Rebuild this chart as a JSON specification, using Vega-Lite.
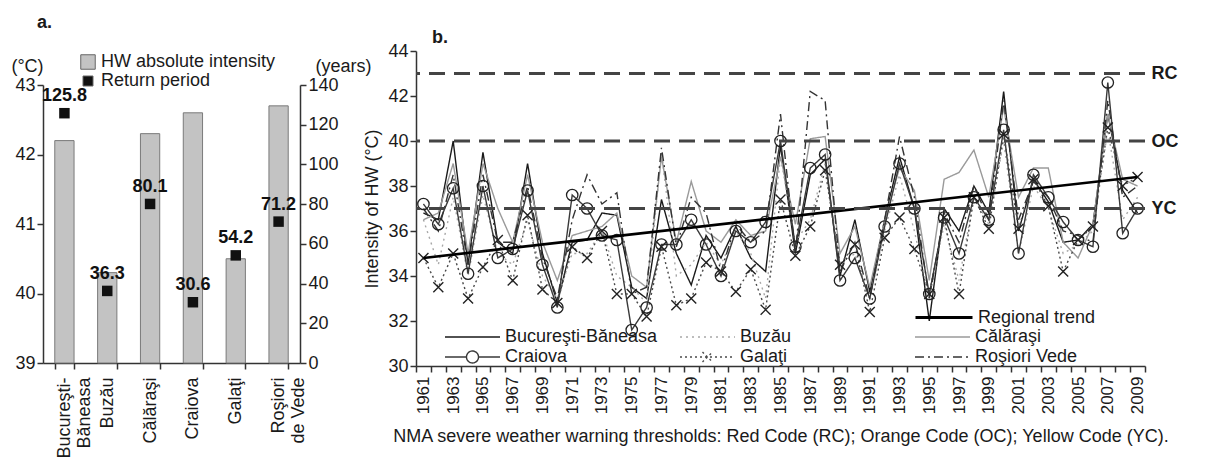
{
  "$schema": "https://vega.github.io/schema/vega-lite/v6.json",
  "padding": {"left": 10, "top": 14, "right": 0, "bottom": 0},
  "background": "white",
  "config": {
    "font": "Liberation Sans",
    "view": {"stroke": null},
    "axis": {"grid": false, "domainColor": "#333", "tickColor": "#333", "labelColor": "#1a1a1a", "titleColor": "#1a1a1a", "titleFontWeight": "normal", "labelFontSize": 18, "titleFontSize": 18, "domainWidth": 1.5, "tickWidth": 1.5, "tickSize": 6},
    "legend": {"labelColor": "#1a1a1a"},
    "title": {"fontSize": 18, "fontWeight": "bold", "color": "#1a1a1a"}
  },
  "bounds": "flush",
  "spacing": 116,
  "resolve": {
    "scale": {"color": "independent", "strokeDash": "independent", "opacity": "independent", "x": "independent", "y": "independent"},
    "legend": {"color": "independent", "strokeDash": "independent", "opacity": "independent"}
  },
  "datasets": {
    "st": [
      {"year":"1961","station":"Bucureşti-Băneasa","value":36.8},{"year":"1962","station":"Bucureşti-Băneasa","value":36.5},{"year":"1963","station":"Bucureşti-Băneasa","value":40.0},{"year":"1964","station":"Bucureşti-Băneasa","value":34.5},{"year":"1965","station":"Bucureşti-Băneasa","value":39.5},{"year":"1966","station":"Bucureşti-Băneasa","value":35.5},{"year":"1967","station":"Bucureşti-Băneasa","value":35.0},{"year":"1968","station":"Bucureşti-Băneasa","value":39.0},{"year":"1969","station":"Bucureşti-Băneasa","value":35.0},{"year":"1970","station":"Bucureşti-Băneasa","value":32.8},
      {"year":"1971","station":"Bucureşti-Băneasa","value":35.5},{"year":"1972","station":"Bucureşti-Băneasa","value":35.6},{"year":"1973","station":"Bucureşti-Băneasa","value":36.8},{"year":"1974","station":"Bucureşti-Băneasa","value":36.7},{"year":"1975","station":"Bucureşti-Băneasa","value":33.5},{"year":"1976","station":"Bucureşti-Băneasa","value":33.0},{"year":"1977","station":"Bucureşti-Băneasa","value":37.4},{"year":"1978","station":"Bucureşti-Băneasa","value":35.0},{"year":"1979","station":"Bucureşti-Băneasa","value":33.6},{"year":"1980","station":"Bucureşti-Băneasa","value":35.8},
      {"year":"1981","station":"Bucureşti-Băneasa","value":34.8},{"year":"1982","station":"Bucureşti-Băneasa","value":36.2},{"year":"1983","station":"Bucureşti-Băneasa","value":34.8},{"year":"1984","station":"Bucureşti-Băneasa","value":34.2},{"year":"1985","station":"Bucureşti-Băneasa","value":39.8},{"year":"1986","station":"Bucureşti-Băneasa","value":35.0},{"year":"1987","station":"Bucureşti-Băneasa","value":38.5},{"year":"1988","station":"Bucureşti-Băneasa","value":39.2},{"year":"1989","station":"Bucureşti-Băneasa","value":34.0},{"year":"1990","station":"Bucureşti-Băneasa","value":36.5},
      {"year":"1991","station":"Bucureşti-Băneasa","value":33.3},{"year":"1992","station":"Bucureşti-Băneasa","value":36.5},{"year":"1993","station":"Bucureşti-Băneasa","value":39.3},{"year":"1994","station":"Bucureşti-Băneasa","value":37.0},{"year":"1995","station":"Bucureşti-Băneasa","value":32.0},{"year":"1996","station":"Bucureşti-Băneasa","value":37.0},{"year":"1997","station":"Bucureşti-Băneasa","value":36.0},{"year":"1998","station":"Bucureşti-Băneasa","value":38.0},{"year":"1999","station":"Bucureşti-Băneasa","value":36.8},{"year":"2000","station":"Bucureşti-Băneasa","value":42.2},
      {"year":"2001","station":"Bucureşti-Băneasa","value":36.0},{"year":"2002","station":"Bucureşti-Băneasa","value":38.3},{"year":"2003","station":"Bucureşti-Băneasa","value":37.3},{"year":"2004","station":"Bucureşti-Băneasa","value":35.5},{"year":"2005","station":"Bucureşti-Băneasa","value":35.6},{"year":"2006","station":"Bucureşti-Băneasa","value":36.3},{"year":"2007","station":"Bucureşti-Băneasa","value":41.2},{"year":"2008","station":"Bucureşti-Băneasa","value":37.8},{"year":"2009","station":"Bucureşti-Băneasa","value":36.8},

      {"year":"1961","station":"Buzău","value":36.5},{"year":"1962","station":"Buzău","value":34.5},{"year":"1963","station":"Buzău","value":37.5},{"year":"1964","station":"Buzău","value":34.0},{"year":"1965","station":"Buzău","value":37.6},{"year":"1966","station":"Buzău","value":35.0},{"year":"1967","station":"Buzău","value":34.5},{"year":"1968","station":"Buzău","value":36.5},{"year":"1969","station":"Buzău","value":34.0},{"year":"1970","station":"Buzău","value":33.0},
      {"year":"1971","station":"Buzău","value":35.0},{"year":"1972","station":"Buzău","value":35.0},{"year":"1973","station":"Buzău","value":36.0},{"year":"1974","station":"Buzău","value":34.0},{"year":"1975","station":"Buzău","value":33.5},{"year":"1976","station":"Buzău","value":32.8},{"year":"1977","station":"Buzău","value":39.5},{"year":"1978","station":"Buzău","value":34.0},{"year":"1979","station":"Buzău","value":34.5},{"year":"1980","station":"Buzău","value":35.5},
      {"year":"1981","station":"Buzău","value":34.5},{"year":"1982","station":"Buzău","value":36.0},{"year":"1983","station":"Buzău","value":35.0},{"year":"1984","station":"Buzău","value":33.0},{"year":"1985","station":"Buzău","value":39.3},{"year":"1986","station":"Buzău","value":35.5},{"year":"1987","station":"Buzău","value":36.5},{"year":"1988","station":"Buzău","value":39.0},{"year":"1989","station":"Buzău","value":34.5},{"year":"1990","station":"Buzău","value":35.0},
      {"year":"1991","station":"Buzău","value":33.0},{"year":"1992","station":"Buzău","value":36.0},{"year":"1993","station":"Buzău","value":38.5},{"year":"1994","station":"Buzău","value":36.0},{"year":"1995","station":"Buzău","value":33.0},{"year":"1996","station":"Buzău","value":36.3},{"year":"1997","station":"Buzău","value":33.8},{"year":"1998","station":"Buzău","value":37.5},{"year":"1999","station":"Buzău","value":36.3},{"year":"2000","station":"Buzău","value":40.0},
      {"year":"2001","station":"Buzău","value":35.0},{"year":"2002","station":"Buzău","value":38.0},{"year":"2003","station":"Buzău","value":37.0},{"year":"2004","station":"Buzău","value":35.0},{"year":"2005","station":"Buzău","value":35.4},{"year":"2006","station":"Buzău","value":36.0},{"year":"2007","station":"Buzău","value":40.5},{"year":"2008","station":"Buzău","value":36.5},{"year":"2009","station":"Buzău","value":37.5},

      {"year":"1961","station":"Călăraşi","value":36.5},{"year":"1962","station":"Călăraşi","value":36.8},{"year":"1963","station":"Călăraşi","value":39.0},{"year":"1964","station":"Călăraşi","value":35.0},{"year":"1965","station":"Călăraşi","value":39.0},{"year":"1966","station":"Călăraşi","value":37.0},{"year":"1967","station":"Călăraşi","value":35.5},{"year":"1968","station":"Călăraşi","value":38.5},{"year":"1969","station":"Călăraşi","value":35.5},{"year":"1970","station":"Călăraşi","value":33.8},
      {"year":"1971","station":"Călăraşi","value":35.8},{"year":"1972","station":"Călăraşi","value":36.0},{"year":"1973","station":"Călăraşi","value":36.2},{"year":"1974","station":"Călăraşi","value":36.8},{"year":"1975","station":"Călăraşi","value":34.0},{"year":"1976","station":"Călăraşi","value":33.5},{"year":"1977","station":"Călăraşi","value":39.3},{"year":"1978","station":"Călăraşi","value":35.5},{"year":"1979","station":"Călăraşi","value":38.2},{"year":"1980","station":"Călăraşi","value":36.0},
      {"year":"1981","station":"Călăraşi","value":35.5},{"year":"1982","station":"Călăraşi","value":36.5},{"year":"1983","station":"Călăraşi","value":35.8},{"year":"1984","station":"Călăraşi","value":36.0},{"year":"1985","station":"Călăraşi","value":39.3},{"year":"1986","station":"Călăraşi","value":36.3},{"year":"1987","station":"Călăraşi","value":40.1},{"year":"1988","station":"Călăraşi","value":40.2},{"year":"1989","station":"Călăraşi","value":35.0},{"year":"1990","station":"Călăraşi","value":36.2},
      {"year":"1991","station":"Călăraşi","value":33.5},{"year":"1992","station":"Călăraşi","value":36.5},{"year":"1993","station":"Călăraşi","value":38.8},{"year":"1994","station":"Călăraşi","value":37.8},{"year":"1995","station":"Călăraşi","value":33.8},{"year":"1996","station":"Călăraşi","value":38.3},{"year":"1997","station":"Călăraşi","value":38.6},{"year":"1998","station":"Călăraşi","value":39.6},{"year":"1999","station":"Călăraşi","value":37.5},{"year":"2000","station":"Călăraşi","value":41.5},
      {"year":"2001","station":"Călăraşi","value":37.5},{"year":"2002","station":"Călăraşi","value":38.8},{"year":"2003","station":"Călăraşi","value":38.8},{"year":"2004","station":"Călăraşi","value":35.5},{"year":"2005","station":"Călăraşi","value":34.8},{"year":"2006","station":"Călăraşi","value":36.3},{"year":"2007","station":"Călăraşi","value":41.2},{"year":"2008","station":"Călăraşi","value":38.3},{"year":"2009","station":"Călăraşi","value":38.0},

      {"year":"1961","station":"Craiova","value":37.2},{"year":"1962","station":"Craiova","value":36.3},{"year":"1963","station":"Craiova","value":37.9},{"year":"1964","station":"Craiova","value":34.1},{"year":"1965","station":"Craiova","value":38.0},{"year":"1966","station":"Craiova","value":34.8},{"year":"1967","station":"Craiova","value":35.2},{"year":"1968","station":"Craiova","value":37.8},{"year":"1969","station":"Craiova","value":34.5},{"year":"1970","station":"Craiova","value":32.6},
      {"year":"1971","station":"Craiova","value":37.6},{"year":"1972","station":"Craiova","value":37.0},{"year":"1973","station":"Craiova","value":35.8},{"year":"1974","station":"Craiova","value":35.6},{"year":"1975","station":"Craiova","value":31.6},{"year":"1976","station":"Craiova","value":32.6},{"year":"1977","station":"Craiova","value":35.4},{"year":"1978","station":"Craiova","value":35.4},{"year":"1979","station":"Craiova","value":36.5},{"year":"1980","station":"Craiova","value":35.4},
      {"year":"1981","station":"Craiova","value":34.0},{"year":"1982","station":"Craiova","value":36.0},{"year":"1983","station":"Craiova","value":35.5},{"year":"1984","station":"Craiova","value":36.4},{"year":"1985","station":"Craiova","value":40.0},{"year":"1986","station":"Craiova","value":35.3},{"year":"1987","station":"Craiova","value":38.8},{"year":"1988","station":"Craiova","value":39.4},{"year":"1989","station":"Craiova","value":33.8},{"year":"1990","station":"Craiova","value":34.8},
      {"year":"1991","station":"Craiova","value":33.0},{"year":"1992","station":"Craiova","value":36.2},{"year":"1993","station":"Craiova","value":39.0},{"year":"1994","station":"Craiova","value":37.0},{"year":"1995","station":"Craiova","value":33.2},{"year":"1996","station":"Craiova","value":36.6},{"year":"1997","station":"Craiova","value":35.0},{"year":"1998","station":"Craiova","value":37.5},{"year":"1999","station":"Craiova","value":36.5},{"year":"2000","station":"Craiova","value":40.5},
      {"year":"2001","station":"Craiova","value":35.0},{"year":"2002","station":"Craiova","value":38.5},{"year":"2003","station":"Craiova","value":37.5},{"year":"2004","station":"Craiova","value":36.4},{"year":"2005","station":"Craiova","value":35.6},{"year":"2006","station":"Craiova","value":35.3},{"year":"2007","station":"Craiova","value":42.6},{"year":"2008","station":"Craiova","value":35.9},{"year":"2009","station":"Craiova","value":37.0},

      {"year":"1961","station":"Galaţi","value":34.8},{"year":"1962","station":"Galaţi","value":33.5},{"year":"1963","station":"Galaţi","value":35.0},{"year":"1964","station":"Galaţi","value":33.0},{"year":"1965","station":"Galaţi","value":34.4},{"year":"1966","station":"Galaţi","value":35.6},{"year":"1967","station":"Galaţi","value":33.8},{"year":"1968","station":"Galaţi","value":36.7},{"year":"1969","station":"Galaţi","value":33.4},{"year":"1970","station":"Galaţi","value":32.8},
      {"year":"1971","station":"Galaţi","value":35.3},{"year":"1972","station":"Galaţi","value":34.8},{"year":"1973","station":"Galaţi","value":36.0},{"year":"1974","station":"Galaţi","value":33.2},{"year":"1975","station":"Galaţi","value":33.2},{"year":"1976","station":"Galaţi","value":32.2},{"year":"1977","station":"Galaţi","value":35.3},{"year":"1978","station":"Galaţi","value":32.7},{"year":"1979","station":"Galaţi","value":33.0},{"year":"1980","station":"Galaţi","value":34.6},
      {"year":"1981","station":"Galaţi","value":34.2},{"year":"1982","station":"Galaţi","value":33.3},{"year":"1983","station":"Galaţi","value":34.3},{"year":"1984","station":"Galaţi","value":32.5},{"year":"1985","station":"Galaţi","value":37.4},{"year":"1986","station":"Galaţi","value":34.9},{"year":"1987","station":"Galaţi","value":36.2},{"year":"1988","station":"Galaţi","value":38.7},{"year":"1989","station":"Galaţi","value":34.5},{"year":"1990","station":"Galaţi","value":35.4},
      {"year":"1991","station":"Galaţi","value":32.4},{"year":"1992","station":"Galaţi","value":35.7},{"year":"1993","station":"Galaţi","value":36.6},{"year":"1994","station":"Galaţi","value":35.2},{"year":"1995","station":"Galaţi","value":33.2},{"year":"1996","station":"Galaţi","value":36.6},{"year":"1997","station":"Galaţi","value":33.2},{"year":"1998","station":"Galaţi","value":37.5},{"year":"1999","station":"Galaţi","value":36.1},{"year":"2000","station":"Galaţi","value":40.3},
      {"year":"2001","station":"Galaţi","value":36.1},{"year":"2002","station":"Galaţi","value":38.3},{"year":"2003","station":"Galaţi","value":37.1},{"year":"2004","station":"Galaţi","value":34.2},{"year":"2005","station":"Galaţi","value":35.6},{"year":"2006","station":"Galaţi","value":36.2},{"year":"2007","station":"Galaţi","value":40.6},{"year":"2008","station":"Galaţi","value":38.0},{"year":"2009","station":"Galaţi","value":38.4},

      {"year":"1961","station":"Roşiori Vede","value":37.0},{"year":"1962","station":"Roşiori Vede","value":36.0},{"year":"1963","station":"Roşiori Vede","value":38.5},{"year":"1964","station":"Roşiori Vede","value":34.5},{"year":"1965","station":"Roşiori Vede","value":38.5},{"year":"1966","station":"Roşiori Vede","value":35.5},{"year":"1967","station":"Roşiori Vede","value":35.5},{"year":"1968","station":"Roşiori Vede","value":38.0},{"year":"1969","station":"Roşiori Vede","value":34.8},{"year":"1970","station":"Roşiori Vede","value":33.0},
      {"year":"1971","station":"Roşiori Vede","value":36.5},{"year":"1972","station":"Roşiori Vede","value":38.5},{"year":"1973","station":"Roşiori Vede","value":37.2},{"year":"1974","station":"Roşiori Vede","value":37.7},{"year":"1975","station":"Roşiori Vede","value":33.2},{"year":"1976","station":"Roşiori Vede","value":33.5},{"year":"1977","station":"Roşiori Vede","value":39.7},{"year":"1978","station":"Roşiori Vede","value":35.3},{"year":"1979","station":"Roşiori Vede","value":37.5},{"year":"1980","station":"Roşiori Vede","value":36.8},
      {"year":"1981","station":"Roşiori Vede","value":34.2},{"year":"1982","station":"Roşiori Vede","value":36.3},{"year":"1983","station":"Roşiori Vede","value":35.5},{"year":"1984","station":"Roşiori Vede","value":36.0},{"year":"1985","station":"Roşiori Vede","value":41.2},{"year":"1986","station":"Roşiori Vede","value":35.0},{"year":"1987","station":"Roşiori Vede","value":42.2},{"year":"1988","station":"Roşiori Vede","value":41.8},{"year":"1989","station":"Roşiori Vede","value":34.2},{"year":"1990","station":"Roşiori Vede","value":35.5},
      {"year":"1991","station":"Roşiori Vede","value":33.0},{"year":"1992","station":"Roşiori Vede","value":36.5},{"year":"1993","station":"Roşiori Vede","value":40.2},{"year":"1994","station":"Roşiori Vede","value":37.5},{"year":"1995","station":"Roşiori Vede","value":33.0},{"year":"1996","station":"Roşiori Vede","value":36.8},{"year":"1997","station":"Roşiori Vede","value":35.5},{"year":"1998","station":"Roşiori Vede","value":38.0},{"year":"1999","station":"Roşiori Vede","value":36.5},{"year":"2000","station":"Roşiori Vede","value":41.8},
      {"year":"2001","station":"Roşiori Vede","value":36.5},{"year":"2002","station":"Roşiori Vede","value":38.2},{"year":"2003","station":"Roşiori Vede","value":37.5},{"year":"2004","station":"Roşiori Vede","value":36.0},{"year":"2005","station":"Roşiori Vede","value":35.8},{"year":"2006","station":"Roşiori Vede","value":35.5},{"year":"2007","station":"Roşiori Vede","value":41.8},{"year":"2008","station":"Roşiori Vede","value":37.5},{"year":"2009","station":"Roşiori Vede","value":38.0}
    ]
  },
  "hconcat": [
    {
      "width": 257,
      "height": 312,
      "title": {"text": "a.", "anchor": "start", "frame": "group", "dx": -6, "offset": 19},
      "data": {"values": [
        {"station": "Bucureşti-Băneasa", "intensity": 42.2, "ret": 125.8},
        {"station": "Buzău", "intensity": 40.3, "ret": 36.3},
        {"station": "Călăraşi", "intensity": 42.3, "ret": 80.1},
        {"station": "Craiova", "intensity": 42.6, "ret": 30.6},
        {"station": "Galaţi", "intensity": 40.5, "ret": 54.2},
        {"station": "Roşiori de Vede", "intensity": 42.7, "ret": 71.2}
      ]},
      "encoding": {
        "x": {"field": "station", "type": "nominal", "sort": null,
          "scale": {"paddingInner": 0.55, "paddingOuter": 0.275},
          "axis": {"title": null, "labelAngle": -90, "tickBand": "extent", "labelPadding": 8, "labelLineHeight": 20,
            "labelExpr": "datum.value == 'Bucureşti-Băneasa' ? ['Bucureşti-', 'Băneasa'] : datum.value == 'Roşiori de Vede' ? ['Roşiori', 'de Vede'] : datum.label"}}
      },
      "resolve": {"scale": {"y": "independent"}},
      "layer": [
        {
          "mark": {"type": "bar", "stroke": "#7a7a7a", "strokeWidth": 1},
          "encoding": {
            "y": {"field": "intensity", "type": "quantitative",
              "scale": {"domain": [39, 43], "range": [312, 34], "zero": false, "nice": false},
              "axis": {"values": [39, 40, 41, 42, 43], "title": "(°C)", "titleAngle": 0, "titleAlign": "center", "titleBaseline": "middle", "titleX": -16, "titleY": 15}},
            "y2": {"datum": 39},
            "color": {"datum": "HW absolute intensity", "type": "nominal",
              "scale": {"domain": ["HW absolute intensity", "Return period"], "range": ["#c3c3c3", "#111111"]},
              "legend": {"orient": "none", "legendX": 36, "legendY": 2, "title": null, "symbolType": "square", "symbolSize": 210, "labelFontSize": 18, "labelLimit": 400, "rowPadding": -5, "labelOffset": 4, "symbolStrokeColor": "#666", "symbolStrokeWidth": 1,
                "encode": {"symbols": {"update": {"size": {"signal": "datum.value == 'Return period' ? 100 : 210"}}}}}}
          }
        },
        {
          "encoding": {
            "y": {"field": "ret", "type": "quantitative",
              "scale": {"domain": [0, 140], "range": [312, 34], "nice": false},
              "axis": {"orient": "right", "values": [0, 20, 40, 60, 80, 100, 120, 140], "title": "(years)", "titleAngle": 0, "titleAlign": "center", "titleBaseline": "middle", "titleX": 43, "titleY": 15}}
          },
          "layer": [
            {"mark": {"type": "square", "size": 110, "filled": true, "opacity": 1},
             "encoding": {"color": {"datum": "Return period", "type": "nominal"}}},
            {"mark": {"type": "text", "fontWeight": "bold", "fontSize": 18, "baseline": "bottom", "dy": -8, "color": "#111"},
             "encoding": {"text": {"field": "ret", "type": "quantitative", "format": ".1f"}}}
          ]
        }
      ]
    },
    {
      "width": 729,
      "height": 315,
      "title": {"text": "b.", "anchor": "start", "frame": "group", "dx": 16, "offset": -5},
      "resolve": {"scale": {"y": "independent"}},
      "layer": [
        {
          "encoding": {
            "x": {"field": "year", "type": "ordinal", "bandPosition": 0.5,
              "scale": {"type": "band", "paddingInner": 0, "paddingOuter": 0},
              "axis": {"title": "NMA severe weather warning thresholds: Red Code (RC); Orange Code (OC); Yellow Code (YC).", "titleLimit": 1200, "titlePadding": 14,
                "labelAngle": -90, "labelOverlap": false, "tickBand": "extent", "labelPadding": 4, "labelFontSize": 17,
                "labelExpr": "toNumber(datum.value) % 2 == 1 ? datum.value : ''"}},
            "y": {"field": "value", "type": "quantitative",
              "scale": {"domain": [30, 44], "zero": false, "nice": false},
              "axis": {"values": [30, 32, 34, 36, 38, 40, 42, 44], "title": "Intensity of HW (°C)", "titlePadding": 6}}
          },
          "layer": [
            {
              "data": {"name": "st"},
              "mark": {"type": "line", "strokeWidth": 1.4},
              "encoding": {
                "color": {"field": "station", "type": "nominal",
                  "scale": {"domain": ["Bucureşti-Băneasa", "Craiova", "Buzău", "Galaţi", "Călăraşi", "Roşiori Vede"], "range": ["#1a1a1a", "#3a3a3a", "#a8a8a8", "#4a4a4a", "#9a9a9a", "#333333"]},
                  "legend": {"orient": "none", "legendX": 28, "legendY": 275, "title": null, "columns": 3, "gridAlign": "all", "columnPadding": 19, "rowPadding": -2, "symbolType": "M-1,0H4.5", "symbolSize": 400, "symbolStrokeWidth": 1.4, "labelFontSize": 18, "labelOffset": 39, "labelLimit": 300,
                    "encode": {"symbols": {"update": {"fill": {"value": "transparent"}, "shape": {"signal": "datum.value === 'Craiova' ? 'M-1,0H1.15M2.35,0H4.5M1.15,0A0.6,0.6 0 1,1 2.35,0A0.6,0.6 0 1,1 1.15,0' : datum.value === 'Galaţi' ? 'M-1,0H4.5M1.25,-0.5L2.25,0.5M1.25,0.5L2.25,-0.5' : 'M-1,0H4.5'"}}}}}},
                "strokeDash": {"field": "station", "type": "nominal",
                  "scale": {"domain": ["Bucureşti-Băneasa", "Craiova", "Buzău", "Galaţi", "Călăraşi", "Roşiori Vede"], "range": [[1, 0], [1, 0], [2, 4], [2, 3], [1, 0], [9, 4, 2, 4]]},
                  "legend": {"orient": "none", "legendX": 28, "legendY": 275, "title": null, "columns": 3, "gridAlign": "all", "columnPadding": 19, "rowPadding": -2, "symbolType": "M-1,0H4.5", "symbolSize": 400, "symbolStrokeWidth": 1.4, "labelFontSize": 18, "labelOffset": 39, "labelLimit": 300}}
              }
            },
            {
              "data": {"name": "st"},
              "transform": [{"filter": "datum.station === 'Craiova'"}],
              "mark": {"type": "point", "shape": "circle", "size": 130, "filled": false, "stroke": "#222", "strokeWidth": 1.3, "opacity": 1}
            },
            {
              "data": {"name": "st"},
              "transform": [{"filter": "datum.station === 'Galaţi'"}],
              "mark": {"type": "point", "shape": "M-1,-1L1,1M-1,1L1,-1", "size": 100, "filled": false, "stroke": "#222", "strokeWidth": 1.4, "opacity": 1}
            },
            {
              "data": {"values": [{"year": "1961", "value": 34.8}, {"year": "2009", "value": 38.4}]},
              "mark": {"type": "line", "color": "black", "strokeWidth": 2.6},
              "encoding": {
                "opacity": {"datum": "Regional trend", "type": "ordinal",
                  "scale": {"domain": ["Regional trend"], "range": [1]},
                  "legend": {"orient": "none", "legendX": 498, "legendY": 255, "title": null, "symbolType": "M-1,0H4.7", "symbolSize": 400, "symbolStrokeColor": "black", "symbolStrokeWidth": 3, "labelFontSize": 18, "labelOffset": 41}}
              }
            }
          ]
        },
        {
          "data": {"values": [{"code": "RC", "level": 43}, {"code": "OC", "level": 40}, {"code": "YC", "level": 37}]},
          "mark": {"type": "rule", "color": "#444", "strokeWidth": 3, "strokeDash": [16, 9]},
          "encoding": {
            "y": {"field": "level", "type": "quantitative",
              "scale": {"domain": [30, 44], "zero": false, "nice": false},
              "axis": {"orient": "right", "values": [37, 40, 43], "labelExpr": "datum.value == 43 ? 'RC' : datum.value == 40 ? 'OC' : 'YC'", "domain": false, "ticks": false, "title": null, "labelFontWeight": "bold", "labelFontSize": 18, "labelPadding": 6}}
          }
        }
      ]
    }
  ]
}
